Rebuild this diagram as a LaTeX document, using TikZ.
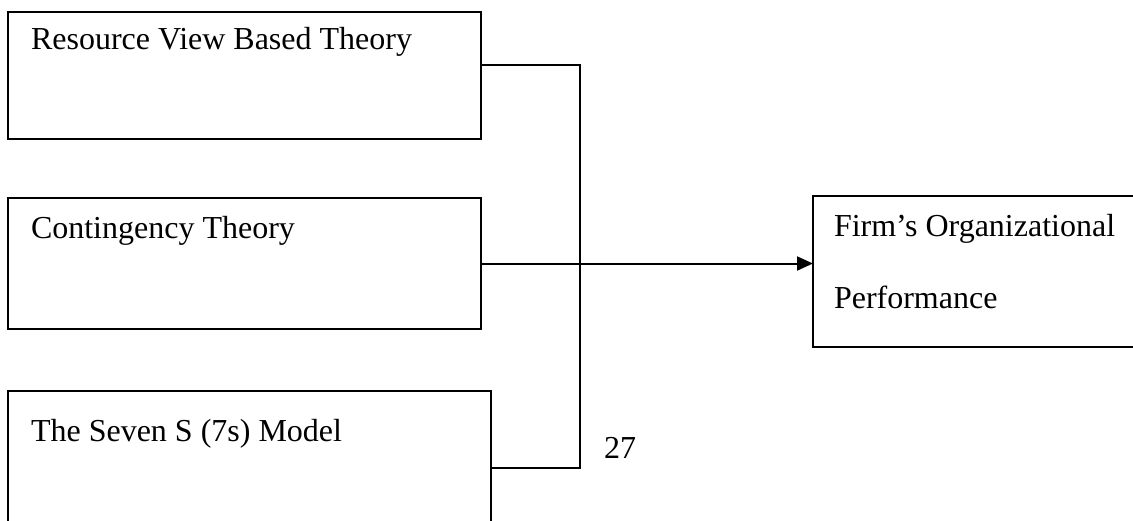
\documentclass[tikz,border=0pt]{standalone}
\usepackage{fontspec}
\setmainfont{Liberation Serif}
\usetikzlibrary{positioning}
\usetikzlibrary{calc}
\usetikzlibrary{arrows.meta}

\begin{document}
\begin{tikzpicture}[x=1pt,y=-1pt,line width=2pt,
    theorybox/.style={draw, rectangle, inner sep=0pt, outer sep=0pt},
    boxtext/.style={anchor=base west, inner sep=0pt, font=\fontsize{32}{38}\selectfont}]
            \useasboundingbox (0,0) rectangle (1133,520);
            % Teorias
            \node [theorybox, minimum width=473pt, minimum height=127pt] (rvbt) at (244.5,75.5) {};
            \node [theorybox, minimum width=473pt, minimum height=131pt] (ct) at (244.5,263.5) {};
            \node [theorybox, minimum width=483pt, minimum height=139pt] (ssm) at (249.5,460.5) {};
            \node [boxtext] (rvbt_t) at (30,49) {Resource View Based Theory};
            \node [boxtext] (ct_t) at (30,238) {Contingency Theory};
            \node [boxtext] (ssm_t) at (30,441) {The Seven S (7s) Model};

            % Desempenho
            \node [theorybox, minimum width=332pt, minimum height=151pt] (fop) at (979,271.5) {};
            \node [boxtext] (fop_t1) at (833,236) {Firm’s Organizational};
            \node [boxtext] (fop_t2) at (833,308) {Performance};

            \node [boxtext] (page) at (603,458) {27};

            \coordinate (j_top) at (580,65);
            \coordinate (j_bot) at (580,468);

            % Conexões
            \draw (rvbt.east |- j_top) -- (j_top) -- (j_bot) -- (ssm.east |- j_bot);
            \draw[-{Triangle[length=16pt,width=14pt]}] (ct.east) -- (ct.east -| fop.west);
        \end{tikzpicture}
\end{document}
